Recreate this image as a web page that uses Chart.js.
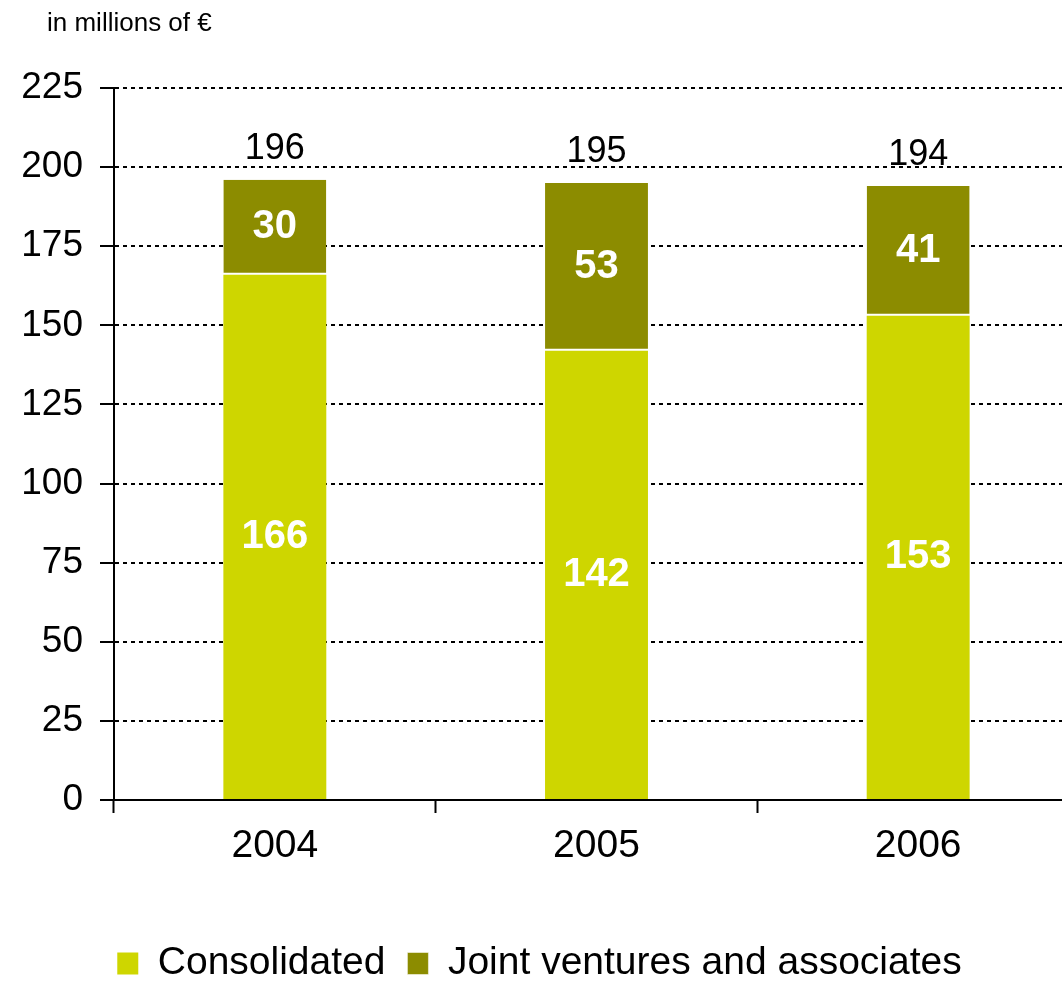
<!DOCTYPE html>
<html>
<head>
<meta charset="utf-8">
<script src="https://cdn.jsdelivr.net/npm/chart.js@4.4.1/dist/chart.umd.min.js"></script>
<style>
  html, body { margin: 0; padding: 0; background: #fff; overflow: hidden; }
  .wrap { position: relative; width: 1080px; height: 997px; }
  .unit { position: absolute; left: 47px; top: 7px; font: 26px "Liberation Sans", Arial, sans-serif; color: #000; }
</style>
</head>
<body>
<div class="wrap">
  <div class="unit">in millions of €</div>
  <canvas id="chart" width="1080" height="997"></canvas>
</div>
<script>
// Figures per year, stacked
const years = ['2004', '2005', '2006'];
const consolidated = [166, 142, 153];
const jointVentures = [30, 53, 41];
const totals = [196, 195, 194];
const yTicks = [0, 25, 50, 75, 100, 125, 150, 175, 200, 225];

const LIGHT = '#CED600';
const DARK = '#8C8C00';
const FONT = '"Liberation Sans", Arial, sans-serif';

// Writes the segment values inside the bars and the totals above them
const valueLabels = {
  id: 'valueLabels',
  afterDatasetsDraw(chart) {
    const ctx = chart.ctx;
    ctx.save();
    ctx.textAlign = 'center';
    ctx.textBaseline = 'middle';
    ctx.fillStyle = '#fff';
    ctx.font = 'bold 40px ' + FONT;
    chart.data.datasets.forEach((ds, i) => {
      chart.getDatasetMeta(i).data.forEach((bar, j) => {
        const mid = (bar.y + bar.base) / 2;
        ctx.fillText(String(ds.data[j]), bar.x, mid);
      });
    });
    ctx.fillStyle = '#000';
    ctx.font = '36px ' + FONT;
    const top = chart.getDatasetMeta(1).data;
    const y = chart.scales.y;
    totals.forEach((v, j) => {
      ctx.fillText(String(v), top[j].x, y.getPixelForValue(v) - 31);
    });
    ctx.restore();
  }
};

new Chart(document.getElementById('chart'), {
  type: 'bar',
  data: {
    labels: years,
    datasets: [
      { label: 'Consolidated', data: consolidated, backgroundColor: LIGHT },
      { label: 'Joint ventures and associates', data: jointVentures, backgroundColor: DARK,
        borderColor: '#fff', borderSkipped: false,
        borderWidth: { top: 0, left: 0, right: 0, bottom: 2 } }
    ]
  },
  options: {
    responsive: false,
    animation: false,
    events: [],
    layout: { padding: { top: 88, left: 0, right: 1, bottom: 4 } },
    datasets: { bar: { categoryPercentage: 1, barPercentage: 0.32 } },
    plugins: {
      legend: {
        position: 'bottom',
        labels: {
          font: { family: FONT, size: 39 },
          color: '#000',
          boxWidth: 21,
          boxHeight: 22,
          padding: 22
        }
      },
      tooltip: { enabled: false }
    },
    scales: {
      x: {
        stacked: true,
        afterFit: s => { s.height = 122; },
        grid: { display: true, drawOnChartArea: false, drawTicks: true, tickLength: 13,
                tickColor: '#000', tickWidth: 2 },
        border: { display: true, color: '#000', width: 2 },
        ticks: { font: { family: FONT, size: 39 }, color: '#000', padding: 10 }
      },
      y: {
        stacked: true,
        min: 0,
        max: 225,
        afterFit: s => { s.width = 114; },
        afterBuildTicks: s => { s.ticks = yTicks.map(v => ({ value: v })); },
        grid: { color: '#000', lineWidth: 2, tickLength: 14,
                tickColor: '#000', tickWidth: 2, tickBorderDash: [] },
        border: { display: true, color: '#000', width: 2, dash: [4, 4] },
        ticks: { font: { family: FONT, size: 37 }, color: '#000', padding: 17 }
      }
    }
  },
  plugins: [valueLabels]
});
</script>
</body>
</html>
